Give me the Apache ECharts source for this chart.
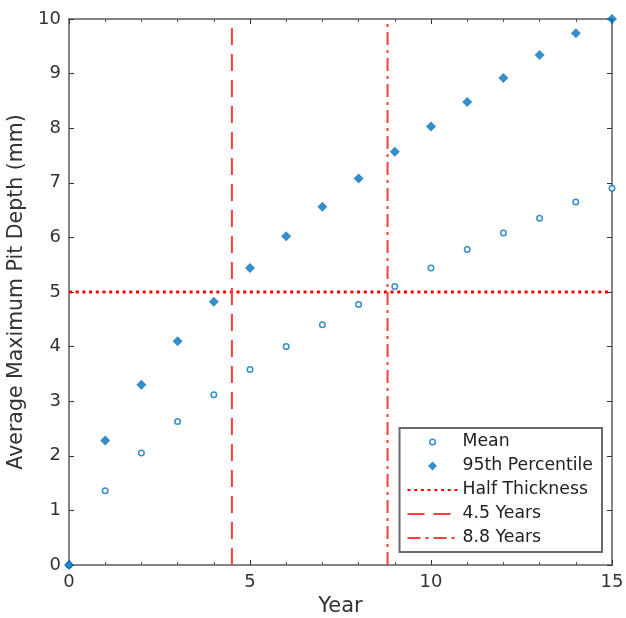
<!DOCTYPE html>
<html><head><meta charset="utf-8">
<script src="https://cdn.jsdelivr.net/npm/echarts@6/dist/echarts.min.js"></script>
<style>html,body{margin:0;padding:0;background:#fff}#c{width:626px;height:618px}</style>
</head><body><div id="c"></div>
<script>
const years = [0,1,2,3,4,5,6,7,8,9,10,11,12,13,14,15];
const meanDepth = [0,1.36,2.05,2.63,3.12,3.58,4.0,4.4,4.77,5.1,5.44,5.78,6.08,6.35,6.65,6.9];
const p95Depth = [0,2.28,3.3,4.1,4.82,5.44,6.02,6.56,7.08,7.57,8.03,8.48,8.92,9.34,9.74,10.0];
const halfThickness = 5;
const line45 = 4.5;
const line88 = 8.8;
const xRange = [0,15];
const yRange = [0,10];

const chart = echarts.init(document.getElementById('c'));
const font = 'DejaVu Sans, Verdana, sans-serif';
const axisCol = '#858585';
const tickCol = '#333';
const blue = '#0072BD';
const red = '#FF0000';
const tickBase = {show:true,inside:true,length:5,lineStyle:{color:tickCol}};
chart.setOption({
  animation:false,
  grid:{left:69,right:14,top:19,bottom:53,containLabel:false,outerBoundsMode:'none'},
  xAxis:[{
    type:'value',min:xRange[0],max:xRange[1],interval:5,
    name:'Year',nameLocation:'middle',nameGap:25,
    nameTextStyle:{fontFamily:font,fontSize:21,color:'#333'},
    axisLine:{show:true,onZero:false,lineStyle:{color:axisCol,width:2}},
    axisTick:tickBase,
    minorTick:{show:true,splitNumber:5,length:3,lineStyle:{color:'#555'}},
    axisLabel:{fontFamily:font,fontSize:18,color:'#333',margin:8},
    splitLine:{show:false}
  },{
    type:'value',min:xRange[0],max:xRange[1],interval:5,position:'top',
    axisLine:{show:true,onZero:false,lineStyle:{color:axisCol,width:2}},
    axisTick:tickBase,
    minorTick:{show:true,splitNumber:5,length:3,lineStyle:{color:'#555'}},
    axisLabel:{show:false},splitLine:{show:false}
  }],
  yAxis:[{
    type:'value',min:yRange[0],max:yRange[1],interval:1,
    name:'Average Maximum Pit Depth (mm)',nameLocation:'middle',nameGap:37,
    nameTextStyle:{fontFamily:font,fontSize:20.5,color:'#333'},
    axisLine:{show:true,onZero:false,lineStyle:{color:axisCol,width:2}},
    axisTick:tickBase,
    axisLabel:{fontFamily:font,fontSize:18,color:'#333',margin:8},
    splitLine:{show:false}
  },{
    type:'value',min:yRange[0],max:yRange[1],interval:1,position:'right',
    axisLine:{show:true,onZero:false,lineStyle:{color:axisCol,width:2}},
    axisTick:tickBase,
    axisLabel:{show:false},splitLine:{show:false}
  }],
  legend:{
    right:24,bottom:66,orient:'vertical',
    backgroundColor:'#fff',borderColor:'#6a6a6a',borderWidth:2,borderRadius:0,
    padding:[4,9,4,7],itemGap:4,itemWidth:50,itemHeight:9,
    symbolKeepAspect:true,
    textStyle:{fontFamily:font,fontSize:17.3,lineHeight:20,color:'#222'},
    data:[
      {name:'Mean',icon:'path://M-1.6,-1.6M1.6,1.6M-1,0A1,1 0 1,1 1,0A1,1 0 1,1 -1,0Z',itemStyle:{color:'#fff',borderColor:blue,borderWidth:1.5}},
      {name:'95th Percentile',icon:'path://M0,-1L1,0L0,1L-1,0Z',itemStyle:{color:blue}},
      {name:'Half Thickness',itemStyle:{opacity:0}},
      {name:'4.5 Years',itemStyle:{opacity:0}},
      {name:'8.8 Years',itemStyle:{opacity:0}}
    ]
  },
  series:[
    {name:'Mean',type:'scatter',symbol:'circle',symbolSize:5.5,
     itemStyle:{color:'#fff',borderColor:blue,borderWidth:1.5},
     data:years.map((x,i)=>[x,meanDepth[i]]),z:5},
    {name:'95th Percentile',type:'scatter',symbol:'diamond',symbolSize:10,
     itemStyle:{color:blue},
     data:years.map((x,i)=>[x,p95Depth[i]]),z:5},
    {name:'Half Thickness',type:'line',symbol:'none',
     lineStyle:{color:red,width:3,type:[3,3.7]},itemStyle:{color:red},
     data:[[xRange[0],halfThickness],[xRange[1],halfThickness]]},
    {name:'4.5 Years',type:'line',symbol:'none',
     lineStyle:{color:'#FF3B3B',width:2,type:[17,9]},itemStyle:{color:'#FF3B3B'},
     data:[[line45,yRange[0]],[line45,yRange[1]]]},
    {name:'8.8 Years',type:'line',symbol:'none',
     lineStyle:{color:'#FF3B3B',width:2,type:[13,5,3,5]},itemStyle:{color:'#FF3B3B'},
     data:[[line88,yRange[0]],[line88,yRange[1]]]},
    {name:'_frame',type:'scatter',xAxisIndex:1,yAxisIndex:1,data:[],silent:true}
  ]
});
</script></body></html>
